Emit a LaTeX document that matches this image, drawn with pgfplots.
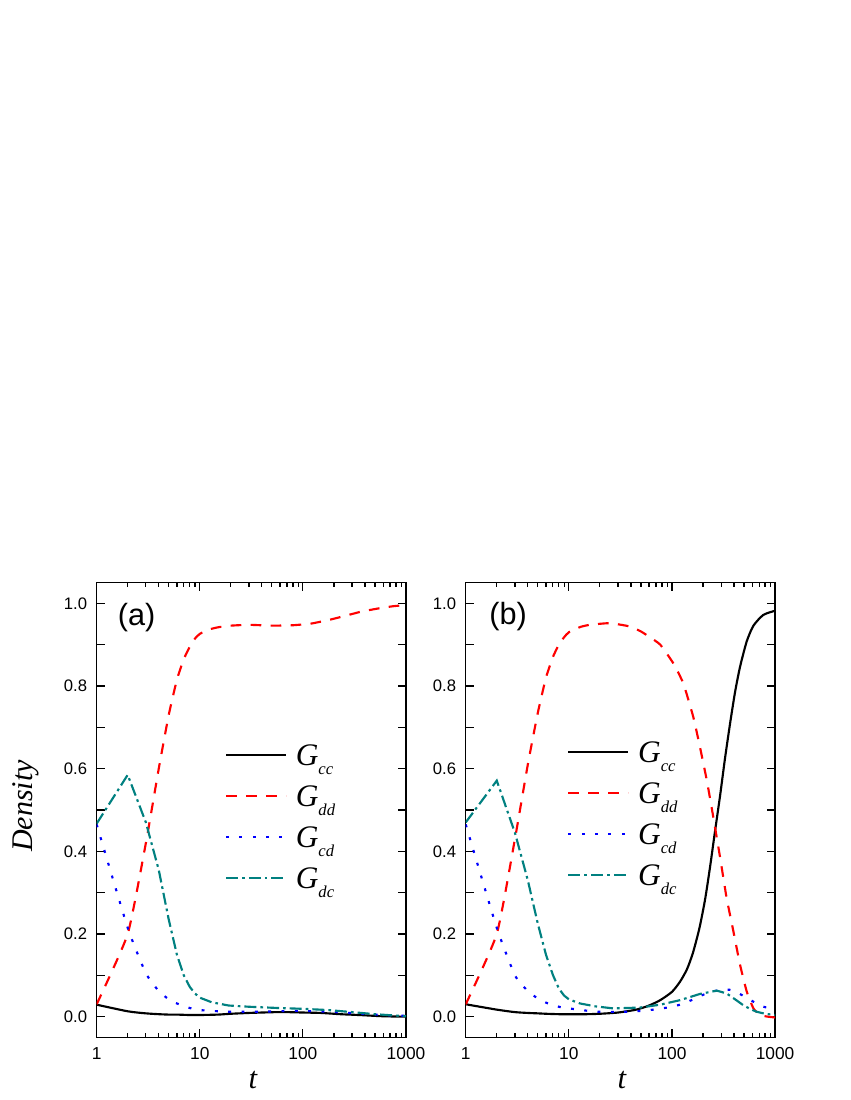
\documentclass[border=0pt]{standalone}
\usepackage{fontspec}
\setmainfont{Liberation Sans}
\newfontfamily\tnr{Liberation Serif}
\usepackage{pgfplots}
\pgfplotsset{compat=1.18}
\definecolor{dcyan}{RGB}{0,128,128}
\newcommand{\G}[1]{{\tnr\itshape\fontsize{23.5}{23.5}\selectfont G\raisebox{-7pt}{\fontsize{12.5}{12.5}\selectfont #1}}}
\pgfplotsset{
  every axis/.append style={
    scale only axis, width=232pt, height=341pt,
    xmin=1, xmax=1000, ymin=-0.05, ymax=1.05,
    xtick={1,10,100,1000}, xticklabels={1,10,100,1000},
    minor xtick={2,3,4,5,6,7,8,9,20,30,40,50,60,70,80,90,200,300,400,500,600,700,800,900},
    ytick={0,0.2,0.4,0.6,0.8,1.0},
    extra y ticks={0.1,0.3,0.5,0.7,0.9}, extra y tick labels={},
    /pgf/number format/assume math mode=true,
    yticklabel style={/pgf/number format/fixed, /pgf/number format/fixed zerofill, /pgf/number format/precision=1,
      font=\fontsize{12.5}{12.5}\selectfont, inner sep=0pt, xshift=-7pt},
    xticklabel style={font=\fontsize{13}{13}\selectfont, inner sep=0pt, yshift=-7.5pt},
    tick align=inside, major tick length=6pt, minor tick length=3.5pt,
    tick style={line width=0.9pt, black},
    axis line style={line width=1.1pt},
    legend cell align=left,
    legend style={draw=none, fill=none, inner sep=0pt, outer sep=0pt,
     row sep=4.75pt, column sep=6.5pt, nodes={inner sep=0pt, text height=20.75pt, text depth=5.25pt}},
  },
}
\begin{document}
\begin{tikzpicture}
\path[use as bounding box] (0,0) rectangle (637.5pt,825pt);
% ---------------- panel (a)
\begin{axis}[xmode=log, at={(72.5pt,47pt)}, anchor=south west,
  legend style={at={(0.415,0.659)}, anchor=north west},
  legend image code/.code={\draw[#1] (0pt,0pt) -- (45pt,0pt);}]
\addplot[black, line width=1.6pt, smooth, tension=0.4] coordinates {(1,0.029)(2,0.013)(3,0.008)(4,0.006)(5,0.005)(6,0.005)(8,0.004)(10,0.004)(15,0.005)(20,0.007)(30,0.009)(40,0.010)(55,0.011)(70,0.011)(100,0.010)(150,0.009)(230,0.006)(350,0.004)(600,0.001)(1000,0.0)};
\addlegendentry{\G{cc}}
\addplot[red, line width=1.6pt, dash pattern=on 8pt off 7pt, smooth, tension=0.3] coordinates {(1,0.03)(2,0.20)(3,0.42)(4,0.60)(5,0.73)(6,0.815)(7,0.865)(8,0.895)(9,0.915)(10,0.926)(12,0.936)(15,0.942)(20,0.946)(30,0.948)(50,0.946)(80,0.947)(120,0.951)(180,0.96)(250,0.969)(370,0.98)(550,0.988)(750,0.993)(1000,0.996)};
\addlegendentry{\G{dd}}
\addplot[blue, line width=1.6pt, dash pattern=on 2.2pt off 7.8pt, smooth, tension=0.3] coordinates {(1,0.465)(2,0.215)(3,0.105)(4,0.062)(5,0.042)(6,0.032)(7,0.026)(8,0.021)(9,0.018)(10,0.016)(13,0.014)(19,0.012)(40,0.012)(84,0.014)(176,0.012)(372,0.007)(600,0.004)(1000,0.002)};
\addlegendentry{\G{cd}}
\addplot[dcyan, line width=1.6pt, dash pattern=on 9pt off 3pt on 2pt off 3pt] coordinates {(1,0.467)(2,0.585)(3,0.47)(4,0.355)(5,0.235)(6,0.15)(7,0.1)(8,0.072)(9,0.056)(10,0.046)(13,0.035)(19,0.027)(30,0.024)(57,0.021)(100,0.019)(176,0.016)(300,0.011)(500,0.006)(1000,0.001)};
\addlegendentry{\G{dc}}
\node[anchor=base west, inner sep=0pt, font=\fontsize{23}{23}\selectfont] at (axis description cs:0.0679,0.9047) {(a)};
\end{axis}
% ---------------- panel (b)
\begin{axis}[xmode=log, at={(349.3pt,47pt)}, anchor=south west,
  legend style={at={(0.3287,0.666)}, anchor=north west},
  legend image code/.code={\draw[#1] (0pt,0pt) -- (45pt,0pt);}]
\addplot[black, line width=1.6pt, smooth, tension=0.4] coordinates {(1,0.03)(2,0.017)(3,0.011)(4,0.009)(5,0.008)(6,0.007)(8,0.006)(10,0.006)(15,0.006)(20,0.007)(30,0.010)(45,0.017)(60,0.027)(77,0.04)(100,0.06)(120,0.085)(140,0.115)(160,0.155)(185,0.215)(210,0.285)(235,0.365)(262,0.45)(293,0.535)(327,0.625)(366,0.709)(409,0.785)(457,0.846)(531,0.908)(617,0.946)(770,0.972)(1000,0.982)};
\addlegendentry{\G{cc}}
\addplot[red, line width=1.6pt, dash pattern=on 8pt off 7pt, smooth, tension=0.3] coordinates {(1,0.03)(2,0.20)(3,0.43)(4,0.61)(5,0.735)(6,0.82)(7,0.87)(8,0.9)(9,0.918)(10,0.93)(13,0.943)(16,0.948)(25,0.952)(39,0.944)(50,0.932)(61,0.918)(77,0.9)(103,0.855)(129,0.806)(161,0.725)(187,0.652)(218,0.571)(252,0.482)(293,0.385)(339,0.287)(394,0.207)(457,0.126)(531,0.061)(617,0.02)(716,0.004)(850,0.0)(1000,-0.002)};
\addlegendentry{\G{dd}}
\addplot[blue, line width=1.6pt, dash pattern=on 2.2pt off 7.8pt, smooth, tension=0.3] coordinates {(1,0.465)(2,0.215)(3,0.1)(4,0.062)(5,0.044)(6,0.034)(7,0.028)(8,0.024)(9,0.021)(10,0.02)(18.5,0.012)(39,0.012)(61,0.016)(90,0.022)(124,0.03)(172,0.045)(201,0.053)(270,0.063)(363,0.065)(440,0.057)(526,0.046)(640,0.034)(770,0.024)(1000,0.018)};
\addlegendentry{\G{cd}}
\addplot[dcyan, line width=1.6pt, dash pattern=on 9pt off 3pt on 2pt off 3pt] coordinates {(1,0.47)(2,0.571)(3,0.445)(4,0.33)(5,0.225)(6,0.15)(7,0.101)(8,0.068)(9,0.051)(10,0.042)(12.8,0.032)(18,0.025)(27,0.02)(49,0.022)(77,0.029)(120,0.04)(187,0.055)(272,0.063)(340,0.056)(420,0.04)(490,0.028)(570,0.019)(660,0.012)(800,0.007)(1000,0.004)};
\addlegendentry{\G{dc}}
\node[anchor=base west, inner sep=0pt, font=\fontsize{23}{23}\selectfont] at (axis description cs:0.0754,0.9085) {(b)};
\end{axis}
% ---------------- axis titles
\node[rotate=90, anchor=base, inner sep=0pt, font=\tnr\itshape\fontsize{22.5}{22.5}\selectfont] at (24.25pt,220.5pt) {Density};
\node[anchor=base, inner sep=0pt, font=\tnr\itshape\fontsize{23}{23}\selectfont] at (189.75pt,9pt) {t};
\node[anchor=base, inner sep=0pt, font=\tnr\itshape\fontsize{23}{23}\selectfont] at (466.5pt,9pt) {t};
\end{tikzpicture}
\end{document}
